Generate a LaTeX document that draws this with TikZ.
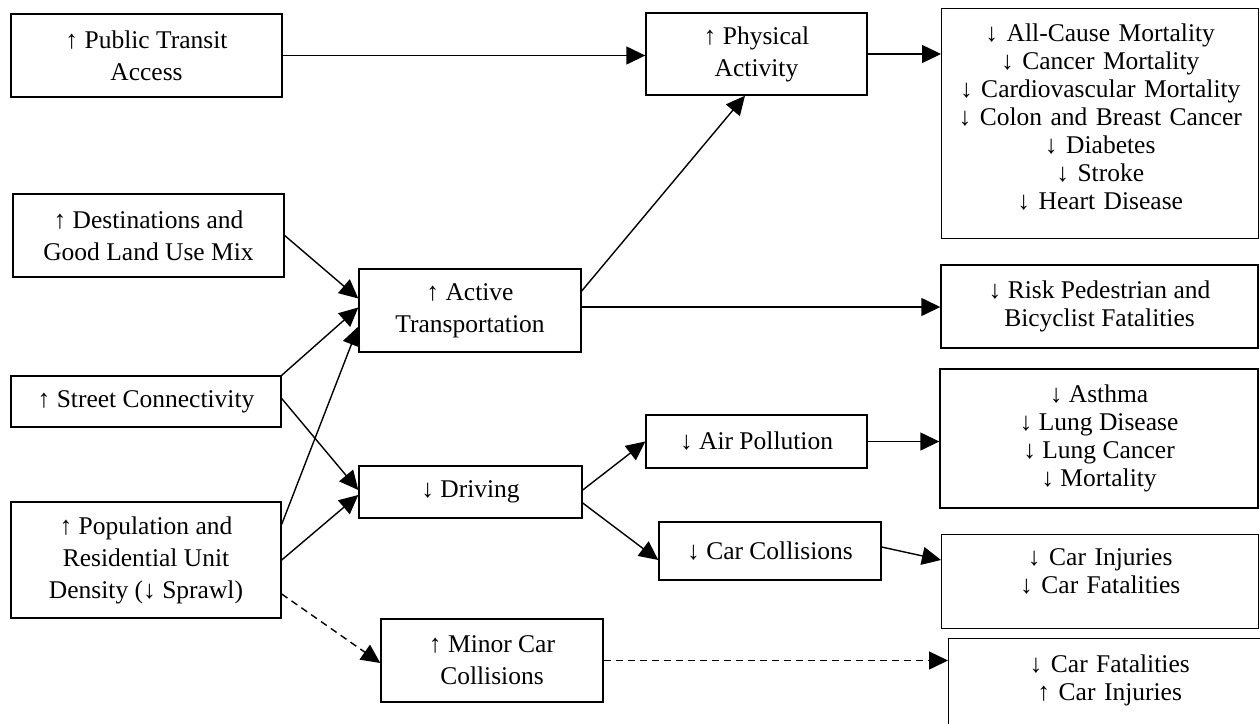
\documentclass[tikz,border=0pt]{standalone}
\usepackage{fontspec}
\setmainfont{Liberation Serif}
\usepackage{tikz}
\usetikzlibrary{arrows.meta}
\tikzset{box/.style={rectangle,draw=black,line width=1.4pt,align=center,inner sep=4pt,font=\fontsize{25.5}{32}\selectfont}}
\tikzset{outbox/.style={box,anchor=north west,font=\fontsize{25.5}{28}\selectfont}}
\tikzset{flow/.style={line width=1.4pt,-{Triangle[length=19pt,width=18pt]}}}
\tikzset{maybe/.style={flow,dash pattern=on 7pt off 5pt}}

\begin{document}
\begin{tikzpicture}[x=1pt,y=-1pt]
\useasboundingbox (0,0) rectangle (1260,723);
\clip (0,0) rectangle (1260,723);
% built environment
\node[box, minimum width=271pt, minimum height=83pt] (transit) at (146.5,55.5) {↑ Public Transit\\Access};
\node[box, minimum width=271pt, minimum height=83pt] (dest) at (148.5,235.5) {↑ Destinations and\\Good Land Use Mix};
\node[box, minimum width=270pt, minimum height=51pt] (street) at (146,401.5) {↑ Street Connectivity};
\node[box, minimum width=270pt, minimum height=116pt] (density) at (146,560) {↑ Population and\\Residential Unit\\Density (↓ Sprawl)};
% behaviour
\node[box, minimum width=222pt, minimum height=83pt] (active) at (470,310.5) {↑ Active\\Transportation};
\node[box, minimum width=223pt, minimum height=52pt] (driving) at (470.5,492) {↓ Driving};
\node[box, minimum width=222pt, minimum height=83pt] (minor) at (492,660.5) {↑ Minor Car\\Collisions};
\node[box, minimum width=221pt, minimum height=82pt] (physact) at (756.5,54) {↑ Physical\\Activity};
\node[box, minimum width=221pt, minimum height=53pt] (airpol) at (756.5,441.5) {↓ Air Pollution};
\node[box, minimum width=222pt, minimum height=58pt] (carcoll) at (770,551) {↓ Car Collisions};
% health outcomes
\node[outbox, text width=309pt, inner ysep=15pt, text depth=182pt] (mortal) at (941,8) {↓ All-Cause Mortality\\↓ Cancer Mortality\\↓ Cardiovascular Mortality\\↓ Colon and Breast Cancer\\↓ Diabetes\\↓ Stroke\\↓ Heart Disease};
\node[box, minimum width=317pt, minimum height=83pt, font=\fontsize{25.5}{28}\selectfont] (pedrisk) at (1099.5,306.5) {↓ Risk Pedestrian and\\Bicyclist Fatalities};
\node[box, minimum width=318pt, minimum height=139pt, font=\fontsize{25.5}{28}\selectfont] (lung) at (1099,438.5) {↓ Asthma\\↓ Lung Disease\\↓ Lung Cancer\\↓ Mortality};
\node[outbox, text width=309pt, inner ysep=14pt, text depth=49pt] (carinj) at (941,534) {↓ Car Injuries\\↓ Car Fatalities};
\node[outbox, text width=314pt, inner ysep=16pt, text depth=100pt] (carfat) at (948,638) {↓ Car Fatalities\\↑ Car Injuries};

\draw[flow] (transit.east) -- (transit.east -| physact.west);
\draw[flow] (physact.east) -- (physact.east -| mortal.west);
\draw[flow] (dest.east) -- ([yshift=12pt]active.west);
\draw[flow] (street.north east) -- ([yshift=3pt]active.west);
\draw[flow] ([yshift=-23pt]density.north east) -- ([yshift=-16pt]active.west);
\draw[flow] ([yshift=3pt]street.east) -- ([yshift=2pt]driving.west);
\draw[flow] (density.east) -- ([yshift=-3pt]driving.west);
\draw[maybe] ([yshift=-34pt]density.east) -- ([yshift=-2.5pt]minor.west);
\draw[flow] ([yshift=19.5pt]active.east) -- ([xshift=-11.5pt]physact.south);
\draw[flow] ([yshift=3.5pt]active.east) -- ([yshift=3.5pt]active.east -| pedrisk.west);
\draw[flow] ([yshift=2pt]driving.east) -- (airpol.west);
\draw[flow] ([yshift=-11pt]driving.east) -- ([yshift=-9pt]carcoll.west);
\draw[flow] (airpol.east) -- (airpol.east -| lung.west);
\draw[flow] ([yshift=4pt]carcoll.east) -- ([yshift=-26pt]carinj.north west);
\draw[maybe] (minor.east) -- (minor.east -| carfat.west);
\end{tikzpicture}
\end{document}
